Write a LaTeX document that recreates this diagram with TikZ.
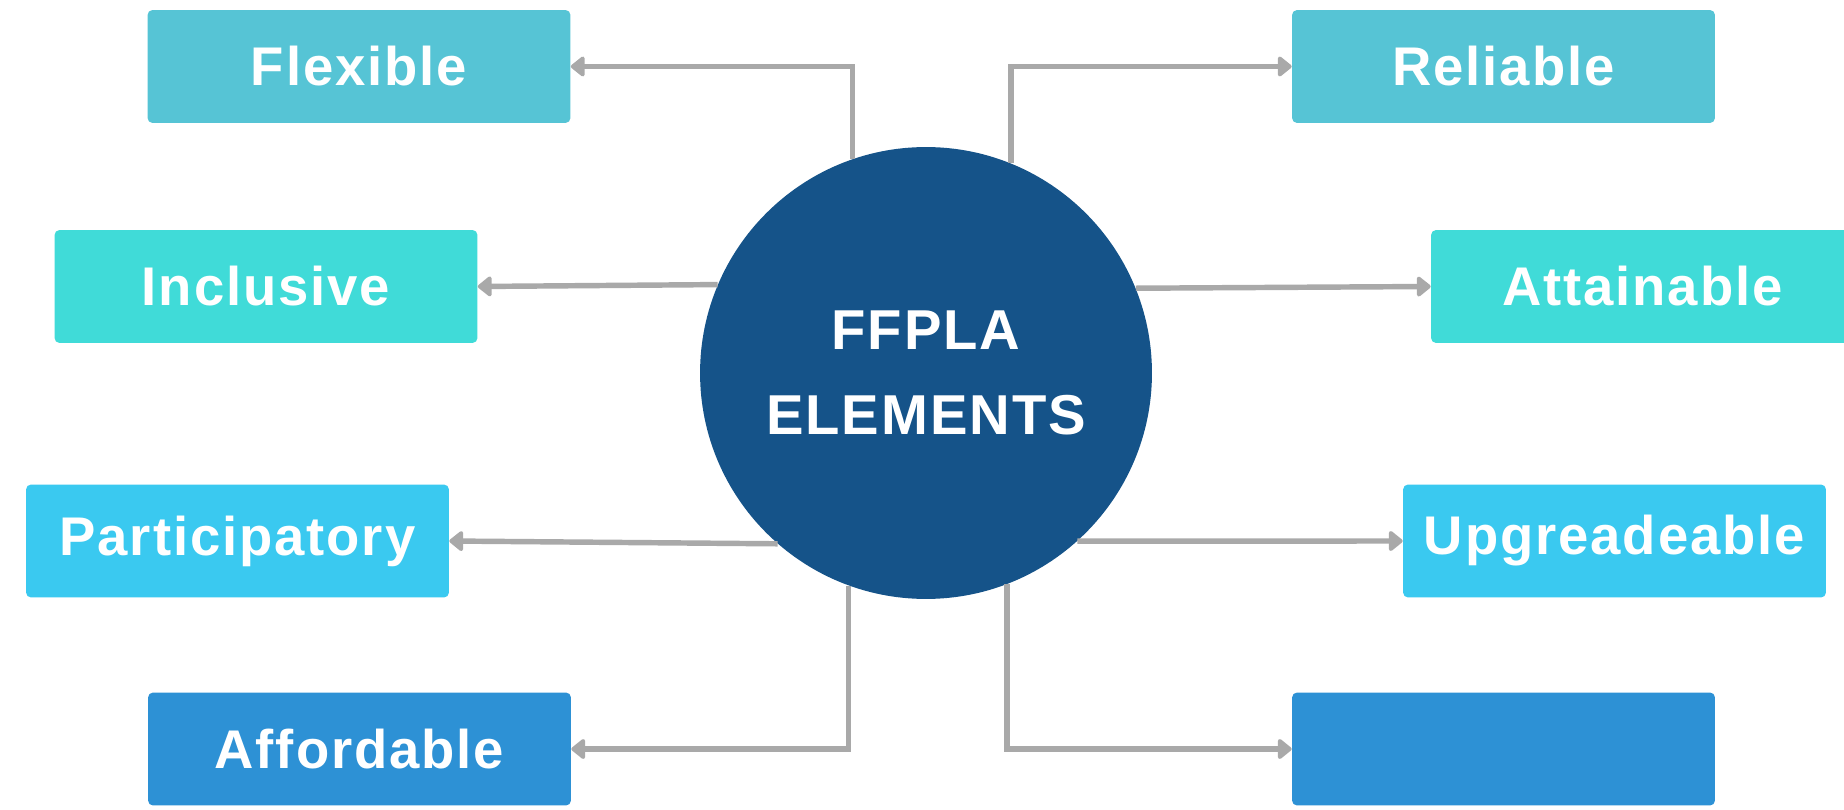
\documentclass[tikz,border=0pt]{standalone}
\usepackage{xcolor}
\usepackage{fontspec}
\setmainfont{Liberation Sans}[LetterSpace=3.5]
\usepackage{tikz}
\usetikzlibrary{shapes,arrows.meta,positioning}

\definecolor{tealbox}{HTML}{56C4D5}
\definecolor{aquabox}{HTML}{40DBD8}
\definecolor{skybox}{HTML}{3AC9F0}
\definecolor{bluebox}{HTML}{2D91D5}
\definecolor{hubblue}{HTML}{155389}
\definecolor{linkgray}{HTML}{A9A9A9}

\tikzset{
    elembox/.style={
        rectangle, rounded corners=0.1cm, draw=none,
        minimum width=8.46cm, minimum height=2.26cm,
        inner sep=0pt, text=white,
        font=\fontsize{31}{37}\selectfont\bfseries
    },
    link/.style={
        draw=linkgray, line width=3.1pt,
        -{Triangle[length=0.3cm, width=0.46cm, round]}
    }
}

\begin{document}
\begin{tikzpicture}[x=0.02cm, y=-0.02cm]
                \useasboundingbox[fill=white] (0,0) rectangle (1844,810);

                % boxes on the left
                \node[elembox, fill=tealbox] (flex) at (359,66.5) {Flexible};
                \node[elembox, fill=aquabox] (incl) at (266,286.5) {Inclusive};
                \node[elembox, fill=skybox] (part) at (237.5,541) {Participatory};
                \node[elembox, fill=bluebox] (aff) at (359.5,749) {Affordable};

                % boxes on the right
                \node[elembox, fill=tealbox] (rel) at (1503.5,66.5) {Reliable};
                \node[elembox, fill=aquabox] (att) at (1642.5,286.5) {Attainable};
                \node[elembox, fill=skybox] (upg) at (1614.5,541) {Upgreadeable};
                \node[elembox, fill=bluebox] (blank) at (1503.5,749) {};

                % centre
                \node[
                    circle, fill=hubblue, minimum size=9.04cm, inner sep=0pt,
                    text=white, align=center,
                    font=\fontsize{32}{48.4}\selectfont\bfseries
                ] (hub) at (926,373) {FFPLA\\ELEMENTS};

                \draw[link] (hub.109.4) |- (flex.east);
                \draw[link] (hub.157.6) -- (incl.east);
                \draw[link] (hub.229.6) -- (part.east);
                \draw[link] (hub.250.6) |- (aff.east);

                \draw[link] (hub.68.2) |- (rel.west);
                \draw[link] (hub.22.4) -- (att.west);
                \draw[link] (hub.312) -- (upg.west);
                \draw[link] (hub.291) |- (blank.west);

             \end{tikzpicture}
\end{document}
